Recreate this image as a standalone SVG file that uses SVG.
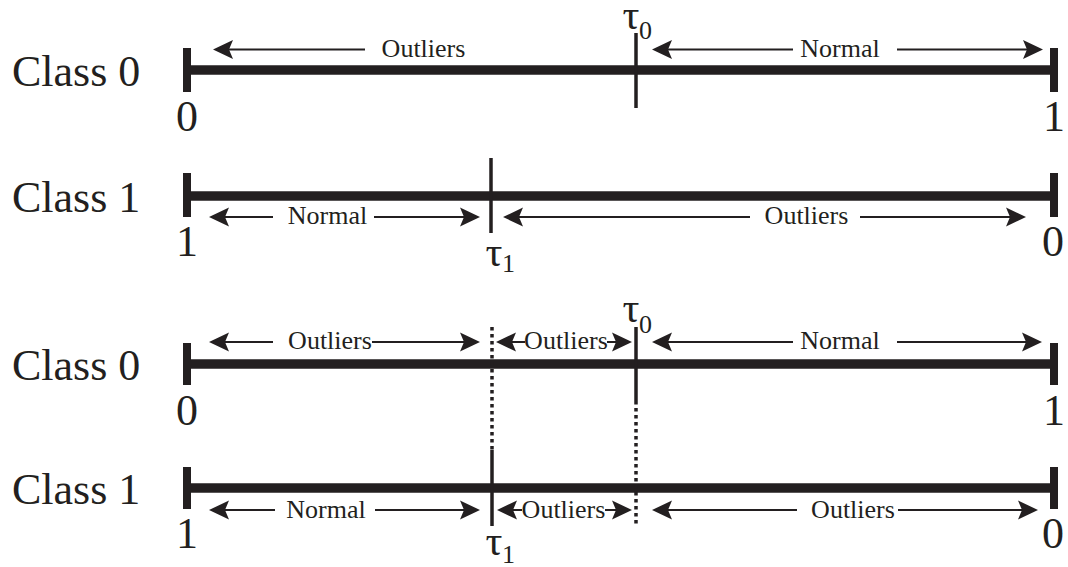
<svg xmlns="http://www.w3.org/2000/svg" width="1068" height="567" viewBox="0 0 1068 567">
<defs>
<marker id="ah" markerUnits="userSpaceOnUse" markerWidth="30" markerHeight="30" viewBox="-15 -15 30 30" refX="0" refY="0" orient="auto" overflow="visible">
<path d="M9,0 L-11,-9.5 L-7,0 L-11,9.5 Z" fill="#231f20"/>
</marker>
</defs>
<style>
.lbl{font-family:"Liberation Serif","Times New Roman",serif;font-size:44px;fill:#231f20}
.num{font-family:"Liberation Serif","Times New Roman",serif;font-size:44px;fill:#231f20;text-anchor:middle}
.sm{font-family:"Liberation Serif","Times New Roman",serif;font-size:26px;fill:#231f20;text-anchor:middle}
.tau{font-family:"Liberation Serif","Times New Roman",serif;font-size:42px;fill:#231f20;text-anchor:middle}
.sub{font-family:"Liberation Serif","Times New Roman",serif;font-size:26px;fill:#231f20}
.axis{stroke:#231f20;stroke-width:9.5;fill:none}
.end{stroke:#231f20;stroke-width:8;fill:none}
.thr{stroke:#231f20;stroke-width:3.5;fill:none}
.dot{stroke:#231f20;stroke-width:3.5;fill:none;stroke-dasharray:3.5 3.5}
.arr{stroke:#231f20;stroke-width:2;fill:none;marker-end:url(#ah)}
</style>
<g id="row1">
<text class="lbl" x="12" y="86">Class 0</text>
<line class="axis" x1="187" y1="70" x2="1054" y2="70"/>
<line class="end" x1="187" y1="48" x2="187" y2="92"/>
<line class="end" x1="1054" y1="48" x2="1054" y2="92"/>
<line class="thr" x1="636" y1="33" x2="636" y2="108"/>
<text class="num" x="187" y="131">0</text>
<text class="num" x="1054" y="131">1</text>
<text class="tau" x="631" y="29">τ</text><text class="sub" x="639" y="39">0</text>
</g>
<g id="row2">
<text class="lbl" x="12" y="212">Class 1</text>
<line class="axis" x1="187" y1="196" x2="1054" y2="196"/>
<line class="end" x1="187" y1="173" x2="187" y2="217"/>
<line class="end" x1="1054" y1="173" x2="1054" y2="217"/>
<line class="thr" x1="491" y1="158" x2="491" y2="233"/>
<text class="num" x="187" y="256">1</text>
<text class="num" x="1053" y="256">0</text>
<text class="tau" x="494" y="266">τ</text><text class="sub" x="502" y="272">1</text>
</g>
<g id="row3">
<text class="lbl" x="12" y="380">Class 0</text>
<line class="axis" x1="187" y1="364" x2="1054" y2="364"/>
<line class="end" x1="187" y1="343" x2="187" y2="385"/>
<line class="end" x1="1054" y1="343" x2="1054" y2="385"/>
<line class="thr" x1="636" y1="327" x2="636" y2="401"/>
<line class="dot" x1="492" y1="327" x2="492" y2="450"/>
<text class="num" x="187" y="425">0</text>
<text class="num" x="1054" y="425">1</text>
<text class="tau" x="631" y="322">τ</text><text class="sub" x="639" y="333">0</text>
</g>
<g id="row4">
<text class="lbl" x="12" y="504">Class 1</text>
<line class="axis" x1="187" y1="488" x2="1054" y2="488"/>
<line class="end" x1="187" y1="467" x2="187" y2="509"/>
<line class="end" x1="1054" y1="467" x2="1054" y2="509"/>
<line class="thr" x1="492" y1="450" x2="492" y2="526"/>
<line class="dot" x1="636" y1="401" x2="636" y2="525"/>
<text class="num" x="187" y="548">1</text>
<text class="num" x="1053" y="548">0</text>
<text class="tau" x="494" y="555">τ</text><text class="sub" x="502" y="563">1</text>
</g>
<g id="connectors">
<line class="arr" x1="365" y1="49.5" x2="222" y2="49.5"/>
<text class="sm" x="423.5" y="57">Outliers</text>
<line class="arr" x1="793" y1="49.5" x2="661" y2="49.5"/>
<text class="sm" x="840" y="57">Normal</text>
<line class="arr" x1="897" y1="49.5" x2="1034" y2="49.5"/>

<line class="arr" x1="273" y1="217" x2="218" y2="217"/>
<text class="sm" x="327.5" y="224">Normal</text>
<line class="arr" x1="374" y1="217" x2="471" y2="217"/>
<line class="arr" x1="750" y1="217" x2="512" y2="217"/>
<text class="sm" x="806.5" y="224">Outliers</text>
<line class="arr" x1="860" y1="217" x2="1017" y2="217"/>

<line class="arr" x1="273" y1="342" x2="218" y2="342"/>
<text class="sm" x="330" y="349">Outliers</text>
<line class="arr" x1="372" y1="342" x2="471" y2="342"/>
<line class="arr" x1="525" y1="342" x2="505" y2="342"/>
<text class="sm" x="566" y="349">Outliers</text>
<line class="arr" x1="607" y1="342" x2="623" y2="342"/>
<line class="arr" x1="793" y1="342" x2="661" y2="342"/>
<text class="sm" x="840" y="349">Normal</text>
<line class="arr" x1="897" y1="342" x2="1033" y2="342"/>

<line class="arr" x1="275" y1="510" x2="218" y2="510"/>
<text class="sm" x="326" y="518">Normal</text>
<line class="arr" x1="375" y1="510" x2="471" y2="510"/>
<line class="arr" x1="522" y1="510" x2="506" y2="510"/>
<text class="sm" x="563.5" y="518">Outliers</text>
<line class="arr" x1="605" y1="510" x2="623" y2="510"/>
<line class="arr" x1="797" y1="510" x2="661" y2="510"/>
<text class="sm" x="853" y="518">Outliers</text>
<line class="arr" x1="898" y1="510" x2="1029" y2="510"/>
</g>
</svg>
